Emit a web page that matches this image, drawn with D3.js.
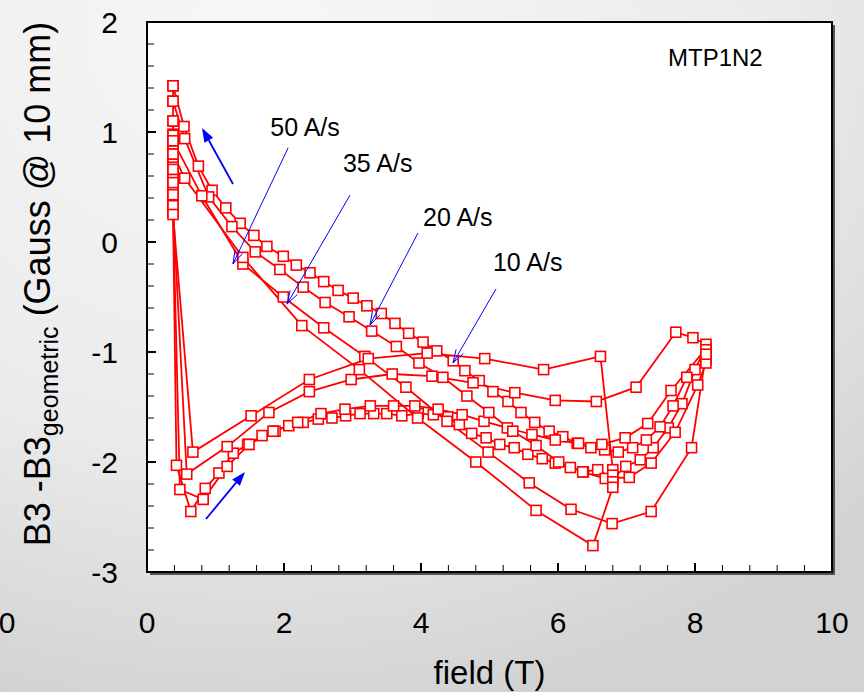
<!DOCTYPE html>
<html><head><meta charset="utf-8">
<script src="https://cdn.jsdelivr.net/npm/d3@7"></script>
<style>html,body{margin:0;padding:0;overflow:hidden;}svg{display:block;}</style>
</head><body>
<script>
// ---------------- data ----------------
const xTicks = [0, 2, 4, 6, 8, 10];
const yTicks = [-3, -2, -1, 0, 1, 2];

// 10 A/s loop
const field10 = [0.38,0.38,0.38,0.38,0.38,0.38,0.38,0.38,0.38,0.38,0.38,0.38,0.38,
  0.43,0.64,0.85,1.05,1.26,1.47,1.68,1.87,2.07,2.28,2.5,2.7,2.9,3.11,3.31,3.5,3.72,3.96,4.18,4.39,4.56,4.74,4.95,5.15,5.36,5.56,5.77,5.96,6.18,6.37,6.58,6.8,6.99,7.2,7.39,7.61,7.81,8.0,
  8.16,8.16,8.16,8.16,
  7.88,7.68,7.49,7.29,7.09,6.88,6.68,6.48,6.28,6.07,5.87,5.66,5.46,5.27,5.05,4.85,4.64,4.47,4.23,4.03,3.82,3.62,3.42,3.21,3.01,2.79,2.58,2.38,2.18,1.99,1.75,1.56,1.36,1.15,0.95,0.75,0.54,0.38];
const b3_10 = [1.42,1.28,1.1,0.98,0.87,0.77,0.68,0.6,0.52,0.45,0.38,0.32,0.27,
  -2.03,-2.45,-2.24,-2.1,-1.92,-1.84,-1.76,-1.72,-1.67,-1.64,-1.61,-1.6,-1.58,-1.56,-1.56,-1.56,-1.58,-1.56,-1.57,-1.59,-1.66,-1.74,-1.78,-1.84,-1.87,-1.93,-1.97,-2.01,-2.05,-2.09,-2.07,-2.15,-2.04,-1.98,-1.87,-1.69,-1.47,-1.16,
  -0.95,-0.99,-1.03,-1.07,
  -1.23,-1.49,-1.68,-1.8,-1.87,-1.91,-1.89,-1.87,-1.83,-1.77,-1.72,-1.64,-1.55,-1.45,-1.36,-1.26,-1.17,-1.08,-0.99,-0.91,-0.83,-0.74,-0.65,-0.58,-0.51,-0.44,-0.36,-0.28,-0.21,-0.13,-0.04,0.06,0.17,0.31,0.47,0.69,1.05,1.42];

// 20 A/s loop
const field20 = [0.38,0.38,0.38,0.38,0.38,0.38,0.38,0.38,0.38,0.38,
  0.48,0.82,1.17,1.49,1.84,2.2,2.54,2.89,3.26,3.6,3.91,4.25,4.6,4.92,5.26,5.62,5.96,6.3,6.64,6.98,7.31,7.65,
  8.16,8.16,8.16,8.16,
  8.04,7.71,7.36,7.04,6.69,6.36,6.01,5.68,5.34,4.99,4.67,4.32,3.97,3.64,3.28,2.95,2.6,2.28,1.94,1.58,1.24,0.9,0.55,0.38];
const b3_20 = [1.1,0.97,0.86,0.75,0.65,0.56,0.48,0.4,0.33,0.28,
  -2.25,-2.34,-2.04,-1.84,-1.72,-1.64,-1.56,-1.52,-1.49,-1.49,-1.49,-1.52,-1.57,-1.63,-1.69,-1.75,-1.8,-1.83,-1.84,-1.78,-1.65,-1.35,
  -0.97,-1.02,-1.06,-1.1,
  -1.3,-1.73,-2.01,-2.14,-2.15,-2.09,-2.0,-1.85,-1.72,-1.55,-1.4,-1.23,-1.1,-0.95,-0.81,-0.68,-0.55,-0.41,-0.25,-0.09,0.14,0.41,0.94,1.28];

// 35 A/s loop
const field35 = [0.38,0.38,0.38,0.38,0.38,0.38,0.38,
  0.58,1.17,1.78,2.37,2.98,3.58,4.16,4.76,5.37,5.96,6.56,7.14,7.72,7.97,
  8.16,8.16,8.16,
  7.95,7.36,6.79,6.19,5.58,4.98,4.38,3.78,3.18,2.58,1.99,1.4,0.8,0.38];
const b3_35 = [0.92,0.8,0.68,0.57,0.47,0.38,0.31,
  -2.11,-1.86,-1.55,-1.36,-1.25,-1.2,-1.22,-1.28,-1.37,-1.44,-1.45,-1.32,-0.82,-0.87,
  -0.93,-0.98,-1.02,
  -1.87,-2.45,-2.56,-2.43,-2.19,-1.91,-1.63,-1.32,-1.04,-0.78,-0.5,-0.2,0.42,0.92];

// 50 A/s loop
const field50 = [0.38,0.38,0.38,0.38,0.38,0.38,
  0.67,1.52,2.37,3.23,4.09,4.93,5.79,6.62,
  6.8,6.8,6.8,6.8,
  6.51,5.68,4.8,3.95,3.1,2.26,1.4,0.55,0.38];
const b3_50 = [0.8,0.66,0.54,0.43,0.33,0.25,
  -1.91,-1.58,-1.25,-1.06,-1.01,-1.06,-1.16,-1.04,
  -2.07,-2.12,-2.18,-2.23,
  -2.76,-2.44,-2.0,-1.6,-1.16,-0.76,-0.14,0.58,0.8];

const rateLabels = ["50 A/s", "35 A/s", "20 A/s", "10 A/s"];
// annotation arrows in data coordinates: [tailX, tailY, tipX, tipY]
const rateArrows = [[2.06,0.855,1.255,-0.2],[2.964,0.427,2.044,-0.564],[3.956,0.082,3.255,-0.755],[5.095,-0.427,4.467,-1.1]];
const rateLabelPos = [[1.8,0.96],[2.86,0.64],[4.03,0.15],[5.05,-0.26]];
const dirArrows = [[1.255,0.527,0.803,1.036],[0.861,-2.518,1.431,-2.09]];

// ---------------- drawing ----------------
const W = 864, H = 692;
const svg = d3.select("body").append("svg").attr("width", W).attr("height", H)
  .style("font-family", "'Liberation Sans', Arial, sans-serif");
const defs = svg.append("defs");
const grad = defs.append("radialGradient").attr("id","bg").attr("cx","0.3").attr("cy","0.05").attr("r","1.0");
grad.append("stop").attr("offset","0").attr("stop-color","#f7f7f7");
grad.append("stop").attr("offset","0.6").attr("stop-color","#ebebeb");
grad.append("stop").attr("offset","1").attr("stop-color","#d2d2d2");
svg.append("rect").attr("width",W).attr("height",H).attr("fill","url(#bg)");

const x = d3.scaleLinear().domain([0,10]).range([147,832]);
const y = d3.scaleLinear().domain([-3,2]).range([572,22]);

// plot frame with shadow
svg.append("rect").attr("x",x(0)+3).attr("y",y(2)+3).attr("width",x(10)-x(0)).attr("height",y(-3)-y(2))
  .attr("fill","#555");
svg.append("rect").attr("x",x(0)).attr("y",y(2)).attr("width",x(10)-x(0)).attr("height",y(-3)-y(2))
  .attr("fill","#fff").attr("stroke","#000").attr("stroke-width",2);

// ticks (inside)
const xMinor = d3.range(0, 10.001, 0.4);
svg.append("g").selectAll("line").data(xMinor).join("line")
  .attr("x1",d=>x(d)).attr("x2",d=>x(d)).attr("y1",y(-3)).attr("y2",d=>y(-3)-(Math.abs(d/2-Math.round(d/2))<1e-6?9:7))
  .attr("stroke","#000").attr("stroke-width",d=>Math.abs(d/2-Math.round(d/2))<1e-6?2:1);
const yMinor = d3.range(-3, 2.001, 0.2);
svg.append("g").selectAll("line").data(yMinor).join("line")
  .attr("y1",d=>y(d)).attr("y2",d=>y(d)).attr("x1",x(0)).attr("x2",d=>x(0)+(Math.abs(d-Math.round(d))<1e-6?9:7))
  .attr("stroke","#000").attr("stroke-width",d=>Math.abs(d-Math.round(d))<1e-6?2:1);

// tick labels
svg.append("g").selectAll("text").data(xTicks).join("text")
  .attr("x",d=>x(d)).attr("y",633).attr("text-anchor","middle").attr("font-size",30).text(d=>d);
svg.append("text").attr("x",7).attr("y",633).attr("text-anchor","middle").attr("font-size",30).text("0");
svg.append("g").selectAll("text").data(yTicks).join("text")
  .attr("x",118).attr("y",d=>y(d)).attr("dy","0.36em").attr("text-anchor","end").attr("font-size",30).text(d=>d);

// axis titles
svg.append("text").attr("x",(x(0)+x(10))/2).attr("y",684).attr("text-anchor","middle").attr("font-size",33).text("field (T)");
const yt = svg.append("text").attr("transform","translate(50,284) rotate(-90)").attr("text-anchor","middle").attr("font-size",36);
yt.append("tspan").text("B3 -B3");
yt.append("tspan").attr("font-size",25).attr("dy",8).text("geometric");
yt.append("tspan").attr("dy",-8).text(" (Gauss @ 10 mm)");

// series
const series = [[field10,b3_10],[field20,b3_20],[field35,b3_35],[field50,b3_50]]
  .map(([f,v]) => f.map((d,i)=>[d,v[i]]));
const line = d3.line().x(d=>x(d[0])).y(d=>y(d[1]));
const gp = svg.append("g");
series.forEach(s => gp.append("path").attr("d",line(s)).attr("fill","none").attr("stroke","#ff0000").attr("stroke-width",1.8));
series.forEach(s => gp.append("g").selectAll("rect").data(s).join("rect")
  .attr("x",d=>x(d[0])-5).attr("y",d=>y(d[1])-5).attr("width",10).attr("height",10)
  .attr("fill","#fff").attr("stroke","#ff0000").attr("stroke-width",1.6));

// annotation arrows
const blue = "#0000ff";
function openArrow(a){
  const [x1,y1,x2,y2] = [x(a[0]),y(a[1]),x(a[2]),y(a[3])];
  svg.append("line").attr("x1",x1).attr("y1",y1).attr("x2",x2).attr("y2",y2).attr("stroke",blue).attr("stroke-width",1);
  const ang = Math.atan2(y2-y1,x2-x1), L=14, sp=0.3;
  [ang+Math.PI-sp, ang+Math.PI+sp].forEach(t=>{
    svg.append("line").attr("x1",x2).attr("y1",y2).attr("x2",x2+L*Math.cos(t)).attr("y2",y2+L*Math.sin(t))
      .attr("stroke",blue).attr("stroke-width",1);
  });
}
rateArrows.forEach(openArrow);
function solidArrow(a){
  const [x1,y1,x2,y2] = [x(a[0]),y(a[1]),x(a[2]),y(a[3])];
  const ang = Math.atan2(y2-y1,x2-x1), L=14, hw=5;
  const bx = x2-L*Math.cos(ang), by = y2-L*Math.sin(ang);
  svg.append("line").attr("x1",x1).attr("y1",y1).attr("x2",bx).attr("y2",by).attr("stroke",blue).attr("stroke-width",1.8);
  const px = -Math.sin(ang), py = Math.cos(ang);
  svg.append("path").attr("d",`M${x2},${y2}L${bx+hw*px},${by+hw*py}L${bx-hw*px},${by-hw*py}Z`).attr("fill",blue);
}
dirArrows.forEach(solidArrow);

svg.append("g").selectAll("text").data(rateLabels).join("text")
  .attr("x",(d,i)=>x(rateLabelPos[i][0])).attr("y",(d,i)=>y(rateLabelPos[i][1]))
  .attr("font-size",25).text(d=>d);
svg.append("text").attr("x",668).attr("y",66).attr("font-size",24).text("MTP1N2");
</script>
</body></html>
